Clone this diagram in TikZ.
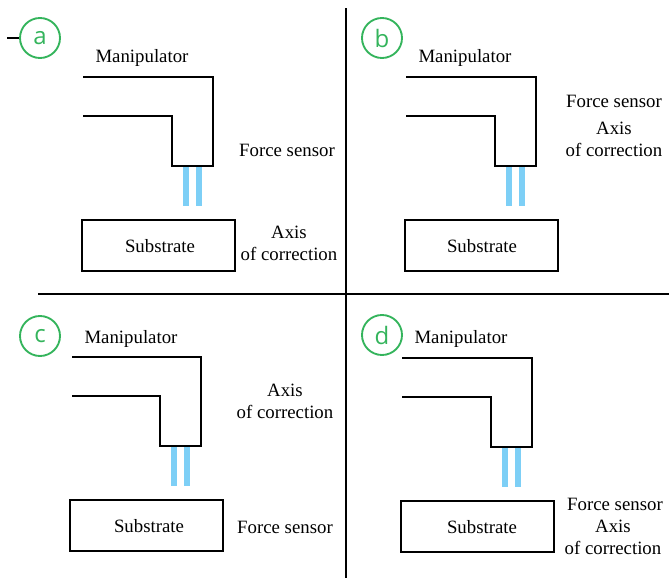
\documentclass[tikz,border=0pt]{standalone}
\usepackage{fontspec}
\setmainfont{Liberation Serif}
\newfontfamily\tagfont{Open Sans}
\usepackage{tikz}
\usetikzlibrary{positioning}
\definecolor{tagGreen}{RGB}{52,180,92}
\definecolor{tipBlue}{RGB}{125,207,246}
\tikzset{every picture/.style={line width=1.5pt}}
\tikzset{
  tag/.style={draw=tagGreen, circle, line width=1.4pt, minimum size=30pt, inner sep=0pt, text=tagGreen, font=\tagfont\fontsize{18}{18}\selectfont},
  lab/.style={font=\fontsize{14.1}{17}\selectfont, align=center, inner sep=0pt, yshift=-1pt},
  substrate/.style={draw, minimum width=115pt, minimum height=38.5pt, inner sep=0pt, anchor=north west},
  tip/.style={fill=tipBlue, draw=none}
}
\begin{document}
\begin{tikzpicture}[x=0.75pt,y=-0.75pt]
  \useasboundingbox (0,0) rectangle (669,578);
  % dividers
  \coordinate (vtop) at (346,8);
  \coordinate (vbot) at (346,578);
  \coordinate (hleft) at (38,294);
  \coordinate (hright) at (669,294);
  \draw (vtop) -- (vbot);
  \draw (hleft) -- (hright);
  % one panel: name, corner of the manipulator, left end, middle of the label
  \foreach \n/\x/\y/\l/\t in {a/213/77/83.5/160,b/536/77/407/482,c/201/357/73/149,d/532/358/402.5/482}{
    \coordinate (\n corner) at (\x,\y);
    \draw[line cap=rect] (\l,\y) -- (\n corner) -- (\x,\y+88.5) -- (\x-41,\y+88.5) -- (\x-41,\y+38.5) -- (\l,\y+38.5);
    \fill[tip] (\x-30,\y+90) rectangle (\x-24,\y+129);
    \fill[tip] (\x-17,\y+90) rectangle (\x-11,\y+129);
    \node[substrate] (\n sub) at (\x-132,\y+142) {};
    \node[lab] (\n sublab) at (\t,\y+168) {Substrate};
  }
  \node[tag] (taga) at (40,38) {a};
  \node[tag] (tagb) at (382,38) {b};
  \node[tag] (tagc) at (40,336) {c};
  \node[tag] (tagd) at (382,335) {d};
  \coordinate (dash) at (7,38);
  \draw (dash) -- (taga);
  \node[lab] (mana) at (142,57) {Manipulator};
  \node[lab] (manb) at (465,57) {Manipulator};
  \node[lab] (manc) at (131,338) {Manipulator};
  \node[lab] (mand) at (461,338) {Manipulator};
  \node[lab] (forcea) at (287,149) {Force sensor};
  \node[lab] (axisa) at (289,242) {Axis\\of correction};
  \node[lab] (forceb) at (614,100) {Force sensor};
  \node[lab] (axisb) at (614,138) {Axis\\of correction};
  \node[lab] (axisc) at (285,400) {Axis\\of correction};
  \node[lab] (forcec) at (285,526) {Force sensor};
  \node[lab] (forced) at (615,503) {Force sensor};
  \node[lab] (axisd) at (613,536) {Axis\\of correction};
\end{tikzpicture}
\end{document}
